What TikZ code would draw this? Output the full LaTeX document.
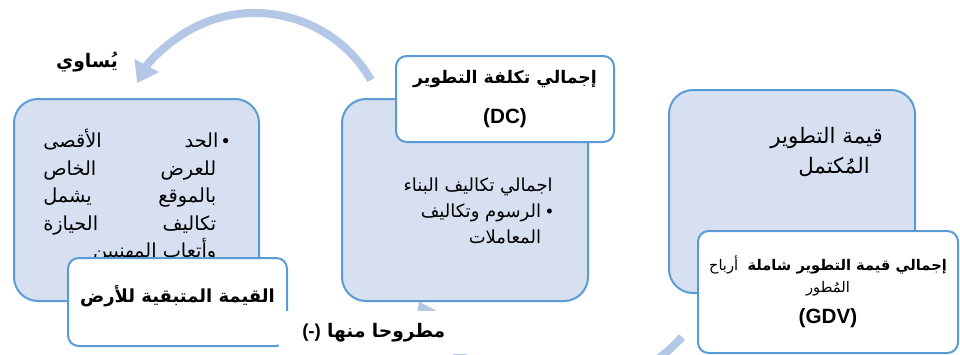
\documentclass[tikz,border=0pt]{standalone}
\usepackage{fontspec}
\setmainfont{Liberation Sans}
\newfontfamily\ar[Script=Arabic]{DejaVu Sans}
\TeXXeTstate=1
\usetikzlibrary{arrows.meta}
\definecolor{boxfill}{RGB}{214,224,240}
\definecolor{boxline}{RGB}{91,155,213}
\definecolor{arrowblue}{RGB}{180,199,231}
\newcommand\AR[1]{{\ar\beginR #1\endR}}
\tikzset{
  bluebox/.style={draw=boxline, fill=boxfill, line width=1.5pt, rounded corners=18pt,
    anchor=north west, inner sep=0pt},
  whitebox/.style={draw=boxline, fill=white, line width=1.5pt, rounded corners=8pt,
    anchor=north west, inner sep=0pt, align=center},
  cyclearrow/.style={draw=arrowblue, line width=6pt,
    -{Triangle[width=20pt,length=15pt]}},
  boxtext/.style={inner sep=0pt},
}
\begin{document}
\begin{tikzpicture}[x=0.75pt,y=-0.75pt]
\useasboundingbox (0,0) rectangle (960,354);

% cycle arrows (drawn first, boxes sit on top)
\coordinate (topTail) at (371,80);
\coordinate (botTail) at (682,337);
\draw[cyclearrow] (topTail) arc[start angle=30, end angle=151.5, radius=100.5pt];
\draw[cyclearrow] (botTail) arc[start angle=-42, end angle=-153.4, radius=120.5pt];

% light blue boxes
\node[bluebox, minimum width=183.75pt, minimum height=151.5pt] (land) at (13,98) {};
\node[bluebox, minimum width=184.5pt, minimum height=151.5pt] (cost) at (341,98) {};
\node[bluebox, minimum width=184.5pt, minimum height=152.25pt] (value) at (668,89) {};

% body text of the blue boxes
\node[boxtext, anchor=north west, align=left, font=\fontsize{14.5}{20.6}\selectfont] (landtxt) at (43,129) {%
  \hbox to 139.5pt{\AR{الأقصى}\hfill\AR{الحد}\kern3pt•}\\
  \hbox to 139.5pt{\AR{الخاص}\hfill\AR{للعرض}\kern9.75pt}\\
  \hbox to 139.5pt{\AR{يشمل}\hfill\AR{بالموقع}\kern9.75pt}\\
  \hbox to 139.5pt{\AR{الحيازة}\hfill\AR{تكاليف}\kern9.75pt}\\
  \hbox to 139.5pt{\hfill\AR{وأتعاب المهنيين}\kern9.75pt}};

\node[boxtext, anchor=north east, align=right, font=\fontsize{13.5}{19.5}\selectfont] (costtxt) at (553,178) {%
  \AR{اجمالي تكاليف البناء}\\
  \AR{الرسوم وتكاليف}\kern4pt•\\
  \AR{المعاملات}\kern8.7pt};

\node[boxtext, anchor=north east, align=right, font=\fontsize{16}{22.5}\selectfont] (valuetxt) at (883,127) {%
  \AR{قيمة التطوير}\\
  \AR{المُكتمل}\kern9.75pt};

% white title boxes
\node[whitebox, minimum width=164.25pt, minimum height=66pt,
  font=\fontsize{13.5}{17}\selectfont\bfseries] (residual) at (67,257)
  {\raisebox{0pt}[0pt][0pt]{\AR{القيمة المتبقية للأرض}}};
\node[whitebox, minimum width=163.5pt, minimum height=64.5pt,
  font=\fontsize{13}{17}\selectfont\bfseries] (dc) at (395,55)
  {\AR{إجمالي تكلفة التطوير}\\[13pt]{\fontsize{15.5}{17}\selectfont(DC)}};
\node[whitebox, minimum width=195pt, minimum height=91.5pt,
  font=\fontsize{11}{16.5}\selectfont] (gdv) at (697,230)
  {{\ar\beginR{\bfseries إجمالي قيمة التطوير شاملة}\ \ أرباح\endR}\\
   \AR{المُطور}\\[7pt]
   {\fontsize{15.5}{17}\selectfont\bfseries (GDV)}};

% labels on the arrows
\node[fill=white, anchor=north west, inner ysep=0pt, inner xsep=17.25pt,
  text width=247.5pt, minimum height=32.25pt, align=left,
  font=\fontsize{14}{17}\selectfont\bfseries] (minus) at (279,311)
  {(-)\ \AR{مطروحا منها}};
\node[font=\fontsize{14}{17}\selectfont\bfseries] (equals) at (87,62) {\AR{يُساوي}};
\end{tikzpicture}
\end{document}
